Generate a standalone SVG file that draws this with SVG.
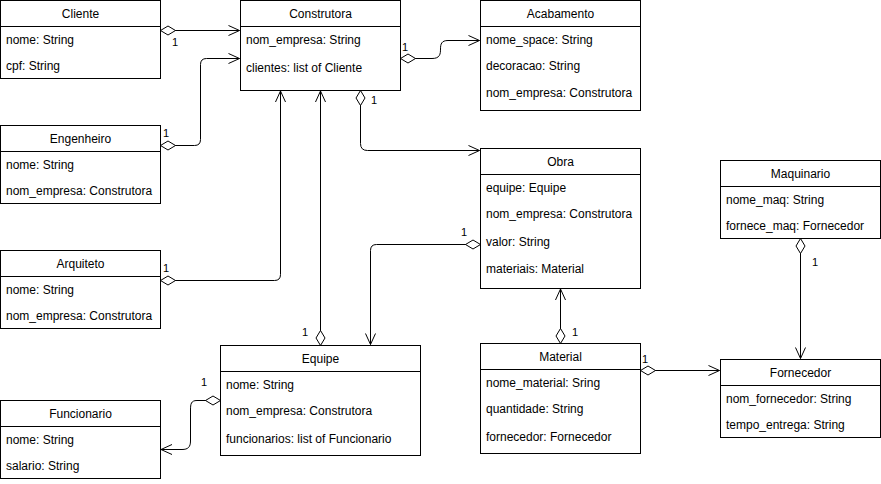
<svg xmlns="http://www.w3.org/2000/svg" width="881" height="484" viewBox="0 0 881 484">
<defs>
<style>
.box{fill:#fff;stroke:#000;stroke-width:1}
.sep{stroke:#000;stroke-width:1}
.t{font-family:"Liberation Sans",Arial,sans-serif;font-size:12px;fill:#000}
.h{text-anchor:middle}
.e{fill:none;stroke:#000;stroke-width:1;marker-start:url(#dia);marker-end:url(#arr)}
.lbl{font-family:"Liberation Sans",Arial,sans-serif;font-size:11px;fill:#000}
</style>
<marker id="dia" markerUnits="userSpaceOnUse" markerWidth="18" markerHeight="12" viewBox="-1 -6 18 12" refX="0" refY="0" orient="auto" overflow="visible">
<path d="M0,0 L7.5,-4.5 L15,0 L7.5,4.5 Z" fill="#fff" stroke="#000" stroke-width="1"/>
</marker>
<marker id="arr" markerUnits="userSpaceOnUse" markerWidth="14" markerHeight="14" viewBox="-12 -7 14 14" refX="0" refY="0" orient="auto" overflow="visible">
<path d="M-11,-5 L0,0 L-11,5" fill="none" stroke="#000" stroke-width="1"/>
</marker>
</defs>
<rect width="881" height="484" fill="#fff"/>

<g id="connectors">
<path class="e" d="M160.5,30.5 L239.5,30.5"/>
<path class="e" d="M160.5,145.5 L194.5,145.5 Q200.5,145.5 200.5,139.5 L200.5,64.5 Q200.5,58.5 206.5,58.5 L239.5,58.5"/>
<path class="e" d="M160.5,280.5 L274.5,280.5 Q280.5,280.5 280.5,274.5 L280.5,91"/>
<path class="e" d="M320.5,345.5 L320.5,91"/>
<path class="e" d="M360.5,90.5 L360.5,143.5 Q360.5,150.5 367.5,150.5 L479.5,150.5"/>
<path class="e" d="M400.5,58.5 L432,58.5 C440,58.5 440.5,54 440.5,49 C440.5,44 441.5,40.5 448,40.5 L479.5,40.5"/>
<path class="e" d="M480.5,244.5 L376.5,244.5 Q370.5,244.5 370.5,250.5 L370.5,344.5"/>
<path class="e" d="M560.5,343.5 L560.5,289"/>
<path class="e" d="M640.5,370.5 L719.5,370.5"/>
<path class="e" d="M800.5,238.5 L800.5,358.5"/>
<path class="e" d="M220.5,400.5 L197,400.5 C191,400.5 190.5,404 190.5,410 L190.5,441 C190.5,447 188,449.5 182,449.5 L161,449.5"/>
<text class="lbl" x="172" y="46">1</text>
<text class="lbl" x="163" y="137">1</text>
<text class="lbl" x="163" y="272">1</text>
<text class="lbl" x="302" y="336">1</text>
<text class="lbl" x="371" y="104">1</text>
<text class="lbl" x="402" y="51">1</text>
<text class="lbl" x="461" y="236">1</text>
<text class="lbl" x="572" y="336">1</text>
<text class="lbl" x="642" y="363">1</text>
<text class="lbl" x="812" y="266">1</text>
<text class="lbl" x="201" y="386">1</text>
</g>

<g id="Cliente">
<rect class="box" x="0.5" y="0.5" width="160" height="78"/>
<line class="sep" x1="0.5" y1="26.5" x2="160.5" y2="26.5"/>
<text class="t h" x="80.5" y="18">Cliente</text>
<text class="t" x="6" y="44">nome: String</text>
<text class="t" x="6" y="70">cpf: String</text>
</g>

<g id="Construtora">
<rect class="box" x="240.5" y="0.5" width="160" height="90"/>
<line class="sep" x1="240.5" y1="26.5" x2="400.5" y2="26.5"/>
<text class="t h" x="320.5" y="18">Construtora</text>
<text class="t" x="246" y="44">nom_empresa: String</text>
<text class="t" x="246" y="72">clientes: list of Cliente</text>
</g>

<g id="Acabamento">
<rect class="box" x="480.5" y="0.5" width="160" height="110"/>
<line class="sep" x1="480.5" y1="26.5" x2="640.5" y2="26.5"/>
<text class="t h" x="560.5" y="18">Acabamento</text>
<text class="t" x="486" y="44">nome_space: String</text>
<text class="t" x="486" y="70">decoracao: String</text>
<text class="t" x="486" y="97">nom_empresa: Construtora</text>
</g>

<g id="Engenheiro">
<rect class="box" x="0.5" y="125.5" width="160" height="78"/>
<line class="sep" x1="0.5" y1="151.5" x2="160.5" y2="151.5"/>
<text class="t h" x="80.5" y="143">Engenheiro</text>
<text class="t" x="6" y="169">nome: String</text>
<text class="t" x="6" y="195">nom_empresa: Construtora</text>
</g>

<g id="Arquiteto">
<rect class="box" x="0.5" y="250.5" width="160" height="78"/>
<line class="sep" x1="0.5" y1="276.5" x2="160.5" y2="276.5"/>
<text class="t h" x="80.5" y="268">Arquiteto</text>
<text class="t" x="6" y="294">nome: String</text>
<text class="t" x="6" y="320">nom_empresa: Construtora</text>
</g>

<g id="Obra">
<rect class="box" x="480.5" y="148.5" width="160" height="140"/>
<line class="sep" x1="480.5" y1="174.5" x2="640.5" y2="174.5"/>
<text class="t h" x="560.5" y="166">Obra</text>
<text class="t" x="486" y="192">equipe: Equipe</text>
<text class="t" x="486" y="218">nom_empresa: Construtora</text>
<text class="t" x="486" y="246">valor: String</text>
<text class="t" x="486" y="273">materiais: Material</text>
</g>

<g id="Maquinario">
<rect class="box" x="720.5" y="160.5" width="160" height="78"/>
<line class="sep" x1="720.5" y1="186.5" x2="880.5" y2="186.5"/>
<text class="t h" x="800.5" y="178">Maquinario</text>
<text class="t" x="726" y="204">nome_maq: String</text>
<text class="t" x="726" y="230">fornece_maq: Fornecedor</text>
</g>

<g id="Equipe">
<rect class="box" x="220.5" y="345.5" width="200" height="110"/>
<line class="sep" x1="220.5" y1="371.5" x2="420.5" y2="371.5"/>
<text class="t h" x="320.5" y="363">Equipe</text>
<text class="t" x="226" y="389">nome: String</text>
<text class="t" x="226" y="415">nom_empresa: Construtora</text>
<text class="t" x="226" y="443">funcionarios: list of Funcionario</text>
</g>

<g id="Funcionario">
<rect class="box" x="0.5" y="400.5" width="160" height="78"/>
<line class="sep" x1="0.5" y1="426.5" x2="160.5" y2="426.5"/>
<text class="t h" x="80.5" y="418">Funcionario</text>
<text class="t" x="6" y="444">nome: String</text>
<text class="t" x="6" y="470">salario: String</text>
</g>

<g id="Material">
<rect class="box" x="480.5" y="343.5" width="160" height="110"/>
<line class="sep" x1="480.5" y1="369.5" x2="640.5" y2="369.5"/>
<text class="t h" x="560.5" y="361">Material</text>
<text class="t" x="486" y="387">nome_material: Sring</text>
<text class="t" x="486" y="413">quantidade: String</text>
<text class="t" x="486" y="441">fornecedor: Fornecedor</text>
</g>

<g id="Fornecedor">
<rect class="box" x="720.5" y="359.5" width="160" height="78"/>
<line class="sep" x1="720.5" y1="385.5" x2="880.5" y2="385.5"/>
<text class="t h" x="800.5" y="377">Fornecedor</text>
<text class="t" x="726" y="403">nom_fornecedor: String</text>
<text class="t" x="726" y="429">tempo_entrega: String</text>
</g>
</svg>
